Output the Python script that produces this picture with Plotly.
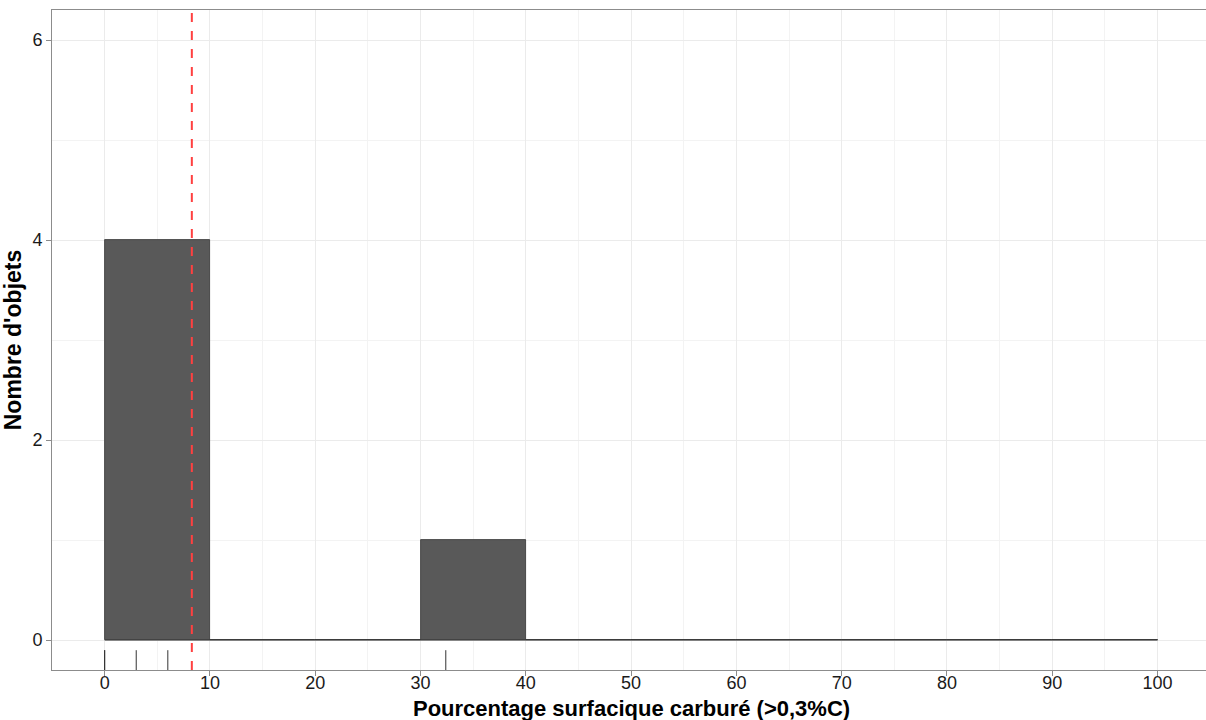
import numpy as np
import plotly.graph_objects as go

# Data
values = [0.0, 0.0, 3.0, 6.0, 32.4]          # observations (rug)
bin_starts = [0, 10, 20, 30, 40, 50, 60, 70, 80, 90]
bin_width = 10
counts = [4, 0, 0, 1, 0, 0, 0, 0, 0, 0]
x_ticks = [0, 10, 20, 30, 40, 50, 60, 70, 80, 90, 100]
x_minor = [5, 15, 25, 35, 45, 55, 65, 75, 85, 95]
y_ticks = [0, 2, 4, 6]
y_minor = [1, 3, 5]
x_title = "Pourcentage surfacique carburé (>0,3%C)"
y_title = "Nombre d'objets"

mean_val = float(np.mean(values))
x_range = [-5, 104.6]
y_range = [-0.3, 6.3]

fig = go.Figure()

centers = [b + bin_width / 2 for b in bin_starts]
fig.add_trace(go.Bar(
    x=centers, y=counts, width=[bin_width] * len(bin_starts),
    marker=dict(color="#595959", line=dict(color="#333333", width=0.8)),
    hoverinfo="x+y", showlegend=False,
))

edges = bin_starts + [bin_starts[-1] + bin_width]
fig.add_trace(go.Scatter(
    x=[edges[0], edges[-1]], y=[0, 0], mode="lines",
    line=dict(color="#333333", width=1), showlegend=False, hoverinfo="skip",
))

rug_len = 0.03 * (y_range[1] - y_range[0])
rx, ry = [], []
for v in values:
    rx += [v, v, None]
    ry += [y_range[0], y_range[0] + rug_len, None]
fig.add_trace(go.Scatter(
    x=rx, y=ry, mode="lines", line=dict(color="#333333", width=1),
    showlegend=False, hoverinfo="skip",
))

fig.add_shape(type="line", xref="x", yref="paper", x0=mean_val, x1=mean_val,
              y0=0, y1=1, line=dict(color="#FF4040", width=2, dash="dash"))

axis_common = dict(
    showgrid=True, gridcolor="#EBEBEB", gridwidth=1, automargin=False,
    zeroline=False, showline=True, linecolor="#8C8C8C", linewidth=1, mirror=True,
    ticks="outside", ticklen=5, tickcolor="#8C8C8C", tickwidth=1,
    tickfont=dict(family="Liberation Sans, Arial", size=18, color="#1A1A1A"),
)

fig.update_xaxes(
    range=x_range, tickvals=x_ticks, ticktext=[str(t) for t in x_ticks],
    ticklabelstandoff=-9,
    minor=dict(showgrid=True, gridcolor="#F3F3F3", gridwidth=0.6, tickvals=x_minor, ticks=""),
    **axis_common,
)
fig.update_yaxes(
    range=y_range, tickvals=y_ticks, ticktext=[str(t) for t in y_ticks],
    title=dict(text=f"<b>{y_title}</b>",
               font=dict(family="Liberation Sans, Arial", size=23, color="#000000")),
    minor=dict(showgrid=True, gridcolor="#F3F3F3", gridwidth=0.6, tickvals=y_minor, ticks=""),
    **axis_common,
)

# x-axis title as an annotation (placed below the tick labels)
fig.add_annotation(
    text=f"<b>{x_title}</b>", xref="x", yref="paper", x=50, y=0,
    yanchor="middle", yshift=-38, showarrow=False,
    font=dict(family="Liberation Sans, Arial", size=22, color="#000000"),
)

fig.update_layout(
    width=1206, height=720,
    margin=dict(l=52, r=0, t=10, b=50),
    plot_bgcolor="white", paper_bgcolor="white",
    bargap=0, showlegend=False,
)

# remove the default 8px page margin so the figure fills the window
fig.write_html(
    "out.html",
    config={"displayModeBar": False},
    post_script="document.body.style.margin='0';document.body.style.overflow='hidden';",
)
